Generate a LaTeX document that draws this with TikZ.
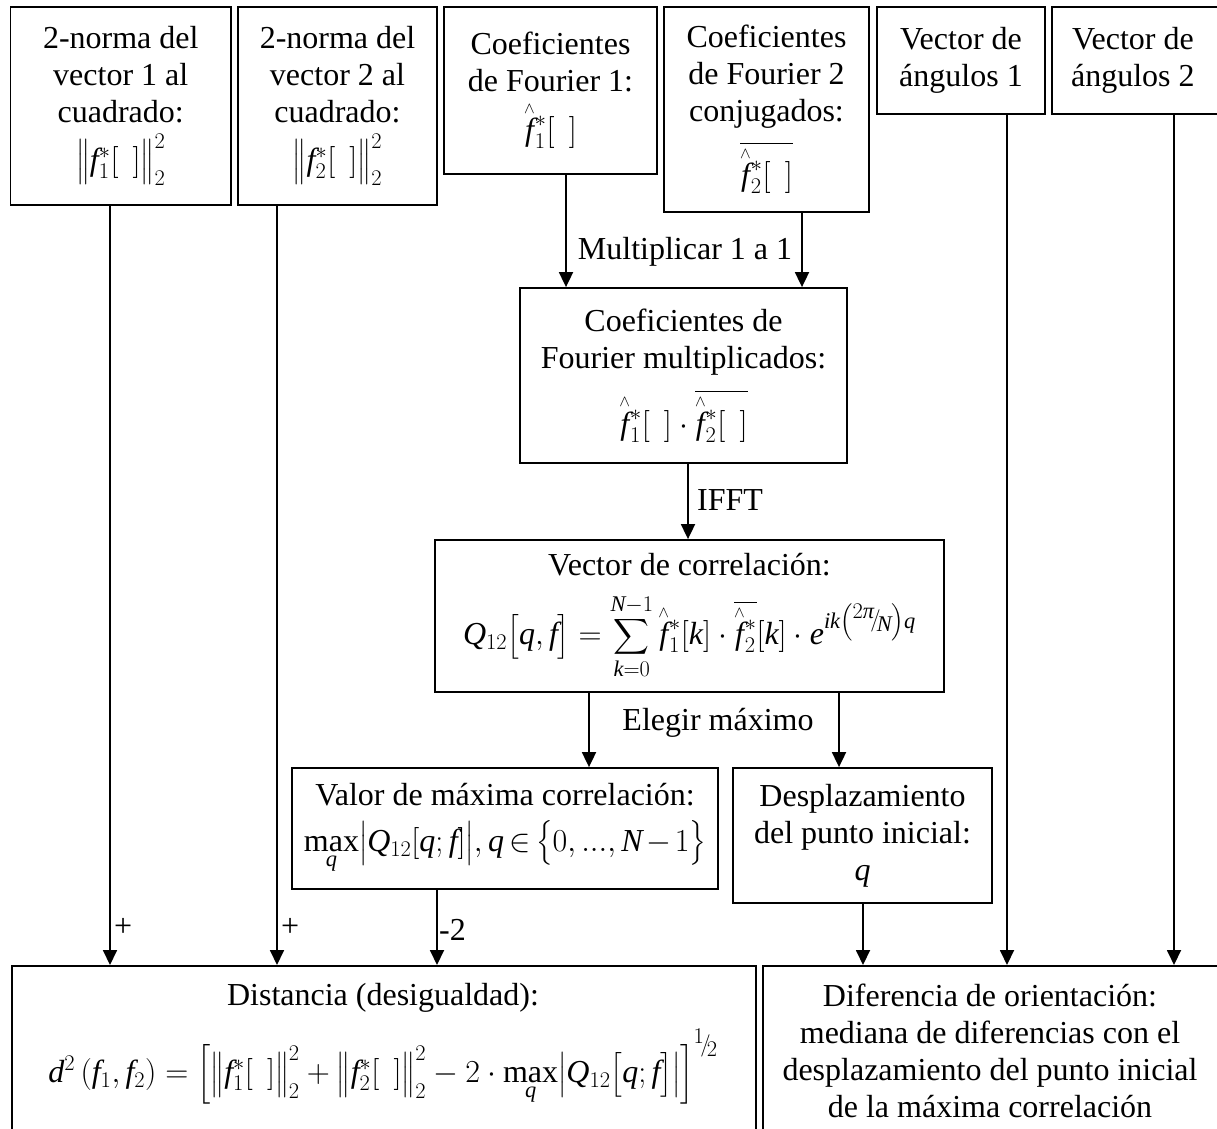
\RequirePackage{fix-cm}
\documentclass[tikz,border=0pt]{standalone}
\usepackage{amsmath}
\usepackage{fontspec}
\setmainfont{Liberation Serif}
\usetikzlibrary{arrows.meta}

% italic math letters taken from the serif text face
\DeclareSymbolFont{tuit}{TU}{\rmdefault}{m}{it}
\count255=`a
\loop \Umathcode\count255="7 \symtuit \count255
  \ifnum\count255<`z \advance\count255 by 1 \repeat
\count255=`A
\loop \Umathcode\count255="7 \symtuit \count255
  \ifnum\count255<`Z \advance\count255 by 1 \repeat
\Umathchardef\pi="0 \symtuit "03C0

% text size used throughout the chart
\newcommand{\chartsize}{\fontsize{32pt}{37pt}\selectfont}
% slanted fraction for small exponents
\newcommand{\slfrac}[2]{\raisebox{.3em}{$\scriptstyle #1$}\mkern-3mu\raisebox{.05em}{$\scriptstyle /$}\mkern-3mu\raisebox{-.1em}{$\scriptstyle #2$}}
\newcommand{\emptybr}{[\;\,]}
% f with a wedge-shaped hat that does not move its scripts
\newcommand{\fh}{{\smash{\overset{\scriptscriptstyle\wedge}{f}}\vphantom{f}}}
\newcommand{\fhstrut}{\vphantom{\overset{\scriptscriptstyle\wedge}{f}}}
% tighter operator spacing
\newcommand{\tight}{\medmuskip=2mu plus 1mu\thickmuskip=3mu plus 1mu}

\tikzset{
  box/.style={draw, line width=1.8pt, align=center, inner sep=0pt, font=\chartsize},
  txt/.style={align=center, inner sep=0pt, font=\chartsize},
  conn/.style={line width=1.8pt, -{Triangle[length=15pt,width=14pt]}},
  lbl/.style={inner sep=0pt, font=\chartsize}
}

\begin{document}
\begin{tikzpicture}[x=1pt,y=-1pt]
\useasboundingbox (0,0) rectangle (1217,1128);

% top row of inputs
\node[box, minimum width=220.5pt, minimum height=198pt] (norm1) at (120.75,106)
  {2-norma del\\vector 1 al\\cuadrado:\\[11pt]$\bigl\| f_1^*\emptybr \bigr\|_2^2$};
\node[box, minimum width=199pt, minimum height=198pt] (norm2) at (337.5,106)
  {2-norma del\\vector 2 al\\cuadrado:\\[11pt]$\bigl\| f_2^*\emptybr \bigr\|_2^2$};
\node[box, minimum width=213pt, minimum height=167pt] (four1) at (550.5,90.5)
  {Coeficientes\\de Fourier 1:\\[12pt]$\fh_1^*\emptybr$};
\node[box, minimum width=205pt, minimum height=205pt] (four2) at (766.5,109.5)
  {Coeficientes\\de Fourier 2\\conjugados:\\[12pt]$\overline{\fhstrut\fh_2^*\emptybr}$};
\node[box, minimum width=168pt, minimum height=107pt] (ang1) at (961,60.5)
  {Vector de\\ángulos 1};
\node[box, minimum width=170pt, minimum height=107pt, anchor=west] (ang2) at (1051,60.5)
  {\hspace*{-4pt}Vector de\hspace*{4pt}\\\hspace*{-4pt}ángulos 2\hspace*{4pt}};

% middle chain
\node[box, minimum width=327pt, minimum height=175pt] (mult) at (683.5,375.5)
  {Coeficientes de\\Fourier multiplicados:\\[14pt]$\fh_1^*\emptybr\cdot\overline{\fhstrut\fh_2^*\emptybr}$};
\node[box, minimum width=509pt, minimum height=152pt] (corr) at (689.5,616)
  {Vector de correlación:\\[18pt]
   $Q_{12}\bigl[q,f\bigr]=\displaystyle\sum_{k=0}^{N-1}\fh_1^*[k]\cdot\overline{\fhstrut\fh_2^*}[k]\cdot e^{ik\left(\slfrac{2\pi}{N}\right)q}$};
\node[box, minimum width=426pt, minimum height=121pt] (maxval) at (505,828.5)
  {Valor de máxima correlación:\\[9pt]
   $\tight\max\limits_q\bigl|Q_{12}[q;f]\bigr|,q\in\bigl\{0,...,N-1\bigr\}$};
\node[box, minimum width=259pt, minimum height=135pt] (shift) at (862.5,835.5)
  {Desplazamiento\\del punto inicial:\\$q$};

% bottom results
\node[box, minimum width=744pt, minimum height=180pt, anchor=north west] (dist) at (11,965) {};
\node[txt, anchor=north] (disttxt) at (383,983)
  {Distancia (desigualdad):\\[16pt]
   $d^2\left(f_1,f_2\right)=\left[\bigl\|f_1^*\emptybr\bigr\|_2^2+\bigl\|f_2^*\emptybr\bigr\|_2^2-2\cdot\max\limits_q\bigl|Q_{12}\bigl[q;f\bigr]\bigr|\right]^{\slfrac{1}{2}}$};
\node[box, minimum width=460pt, minimum height=180pt, anchor=north west] (orient) at (762,965) {};
\node[txt, anchor=north] (orienttxt) at (990,984)
  {Diferencia de orientación:\\mediana de diferencias con el\\desplazamiento del punto inicial\\de la máxima correlación};

% x positions of the vertical connectors
\coordinate (c1) at (110,0);
\coordinate (c2) at (277,0);
\coordinate (c3) at (566,0);
\coordinate (c4) at (802,0);
\coordinate (c5) at (688,0);
\coordinate (c6) at (589,0);
\coordinate (c7) at (839,0);
\coordinate (c8) at (437,0);
\coordinate (c9) at (863,0);
\coordinate (c10) at (1007,0);
\coordinate (c11) at (1174,0);

\draw[conn] (norm1.south -| c1) -- (dist.north -| c1);
\draw[conn] (norm2.south -| c2) -- (dist.north -| c2);
\draw[conn] (four1.south -| c3) -- (mult.north -| c3);
\draw[conn] (four2.south -| c4) -- (mult.north -| c4);
\draw[conn] (mult.south -| c5) -- (corr.north -| c5);
\draw[conn] (corr.south -| c6) -- (maxval.north -| c6);
\draw[conn] (corr.south -| c7) -- (shift.north -| c7);
\draw[conn] (maxval.south -| c8) -- (dist.north -| c8);
\draw[conn] (shift.south -| c9) -- (orient.north -| c9);
\draw[conn] (ang1.south -| c10) -- (orient.north -| c10);
\draw[conn] (ang2.south -| c11) -- (orient.north -| c11);

% connector labels
\node[lbl] (lmult) at (685,252) {Multiplicar 1 a 1};
\node[lbl, anchor=west] (lifft) at (697,500) {IFFT};
\node[lbl] (lmax) at (718,723) {Elegir máximo};
\node[lbl, anchor=west] (lp1) at (114,927) {+};
\node[lbl, anchor=west] (lp2) at (281,927) {+};
\node[lbl, anchor=west] (lm2) at (439,930) {-2};
\end{tikzpicture}
\end{document}
